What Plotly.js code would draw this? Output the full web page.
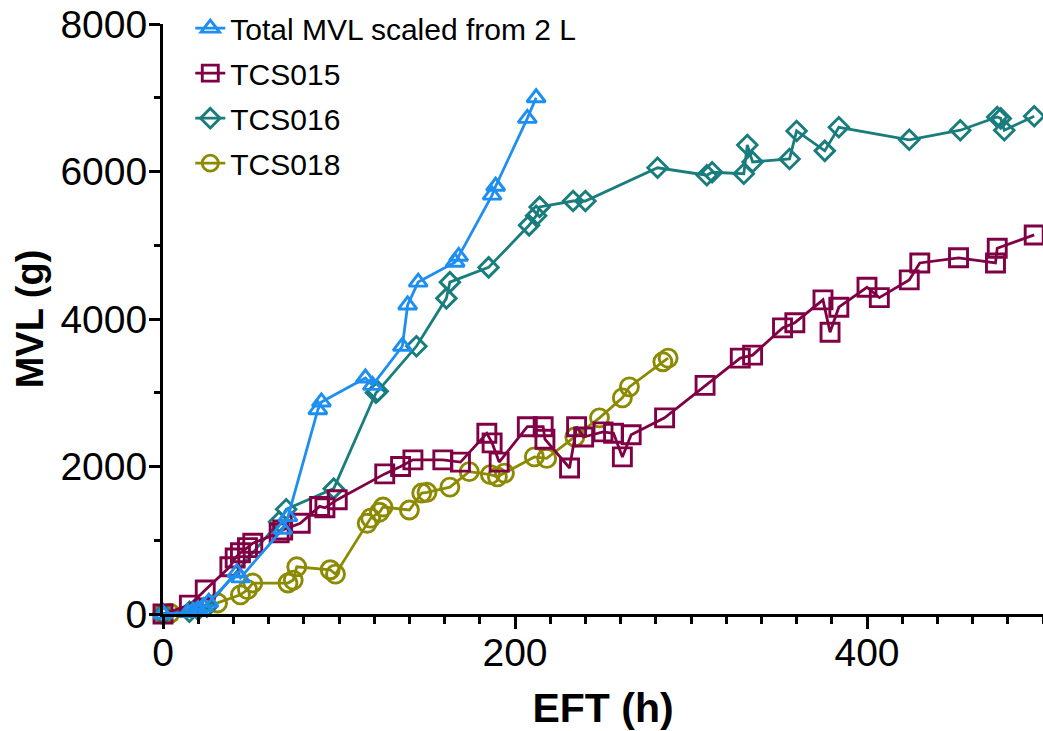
<!DOCTYPE html>
<html>
<head>
<meta charset="utf-8">
<script src="https://cdn.plot.ly/plotly-3.0.1.min.js"></script>
<style>
html,body{margin:0;padding:0;background:#fff;}
#chart{width:1043px;height:731px;}
</style>
</head>
<body>
<div id="chart"></div>
<script>
// ---- data ----
const seriesNames = ["Total MVL scaled from 2 L", "TCS015", "TCS016", "TCS018"];

const totalX = [0, 14, 17, 20, 23, 26, 42, 44, 68, 71, 88, 90, 115, 119, 136, 139, 145, 166, 168, 187, 189, 207, 212];
const totalY = [0, 20, 40, 60, 100, 160, 560, 490, 1150, 1320, 2770, 2875, 3200, 3100, 3630, 4190, 4500, 4770, 4850, 5680, 5800, 6720, 7000];

const tcs015X = [0, 15, 24, 38, 41, 44, 48, 51, 66, 68, 78, 89, 92, 99, 126, 135, 142, 159, 169, 184, 187, 191, 207, 216, 217, 231, 235, 239, 250, 256, 261, 266, 285, 308, 328, 335, 352, 359, 375, 379, 384, 400, 407, 424, 430, 452, 473, 474, 495];
const tcs015Y = [0, 120, 325, 640, 760, 830, 900, 960, 1100, 1140, 1230, 1460, 1440, 1550, 1900, 2000, 2090, 2090, 2060, 2450, 2320, 2060, 2540, 2540, 2370, 1980, 2540, 2400, 2470, 2450, 2130, 2430, 2660, 3100, 3470, 3510, 3880, 3950, 4260, 3820, 4160, 4430, 4290, 4530, 4760, 4830, 4760, 4960, 5140];

const tcs016X = [0, 15, 20, 25, 66, 70, 97, 121, 122, 144, 161, 163, 185, 208, 212, 214, 233, 240, 281, 309, 312, 330, 332, 335, 356, 360, 376, 384, 424, 453, 474, 476, 478, 495];
const tcs016Y = [0, 30, 60, 100, 1250, 1420, 1700, 3000, 3020, 3630, 4280, 4500, 4700, 5270, 5400, 5520, 5600, 5600, 6050, 5950, 5990, 5970, 6360, 6130, 6170, 6550, 6280, 6600, 6430, 6560, 6740, 6720, 6560, 6750];

const tcs018X = [0, 4, 31, 44, 48, 51, 71, 74, 76, 95, 98, 116, 118, 123, 125, 140, 147, 150, 163, 174, 186, 190, 194, 211, 218, 234, 248, 261, 265, 284, 287];
const tcs018Y = [0, 10, 150, 260, 330, 420, 420, 460, 640, 600, 540, 1230, 1300, 1380, 1450, 1410, 1640, 1650, 1720, 1930, 1890, 1860, 1910, 2130, 2110, 2400, 2660, 2930, 3080, 3420, 3470];

const xTickVals = [0, 200, 400];
const yTickVals = [0, 2000, 4000, 6000, 8000];

// ---- styles ----
const colors = ["#1e8ff0", "#800045", "#1a7d7d", "#8c8a00"];
const symbols = ["triangle-up-open", "square-open", "diamond-open", "circle-open"];
const sizes = [16, 18, 15, 18];
const FONT = "Liberation Sans, Arial, Helvetica, sans-serif";

function mk(i, x, y) {
  return {
    type: "scatter", mode: "lines+markers",
    x: x, y: y, name: seriesNames[i],
    legendgroup: "g" + i, legendrank: i + 1,
    cliponaxis: false,
    line: {color: colors[i], width: 2.8},
    marker: {symbol: symbols[i], size: sizes[i], color: colors[i], line: {color: colors[i], width: 2.9}}
  };
}

const data = [
  mk(3, tcs018X, tcs018Y),
  mk(2, tcs016X, tcs016Y),
  mk(1, tcs015X, tcs015Y),
  mk(0, totalX, totalY)
];

const layout = {
  width: 1043, height: 731,
  margin: {l: 163, r: 0, t: 24, b: 117},
  paper_bgcolor: "#fff", plot_bgcolor: "#fff",
  font: {family: FONT, color: "#000"},
  showlegend: true,
  legend: {
    x: 0.031, y: 1.037, xanchor: "left", yanchor: "top",
    traceorder: "grouped", tracegroupgap: 3,
    font: {family: FONT, size: 30, color: "#000"},
    bgcolor: "rgba(0,0,0,0)", itemwidth: 30
  },
  xaxis: {
    range: [0, 500], tickvals: xTickVals, ticktext: xTickVals.map(String),
    showgrid: false, zeroline: false, showline: true, linecolor: "#000", linewidth: 3,
    ticks: "outside", ticklen: 12, tickwidth: 3, tickcolor: "#000",
    minor: {dtick: 20, tick0: 0, ticks: "outside", ticklen: 7, tickwidth: 3, tickcolor: "#000", showgrid: false},
    tickfont: {family: FONT, size: 39, color: "#000"},
    ticklabelstandoff: -10,
    title: {text: "<b>EFT (h)</b>", font: {family: FONT, size: 41, color: "#000"}, standoff: 24},
    automargin: false
  },
  yaxis: {
    range: [0, 8000], tickvals: yTickVals, ticktext: yTickVals.map(String),
    showgrid: false, zeroline: false, showline: true, linecolor: "#000", linewidth: 3,
    ticks: "outside", ticklen: 11, tickwidth: 3, tickcolor: "#000",
    minor: {dtick: 1000, tick0: 0, ticks: "outside", ticklen: 6, tickwidth: 3, tickcolor: "#000", showgrid: false},
    tickfont: {family: FONT, size: 39, color: "#000"},
    ticklabelstandoff: -6,
    title: {text: "<b>MVL (g)</b>", font: {family: FONT, size: 38, color: "#000"}, standoff: 6},
    automargin: false
  }
};

Plotly.newPlot("chart", data, layout, {displayModeBar: false, staticPlot: true});
</script>
</body>
</html>
